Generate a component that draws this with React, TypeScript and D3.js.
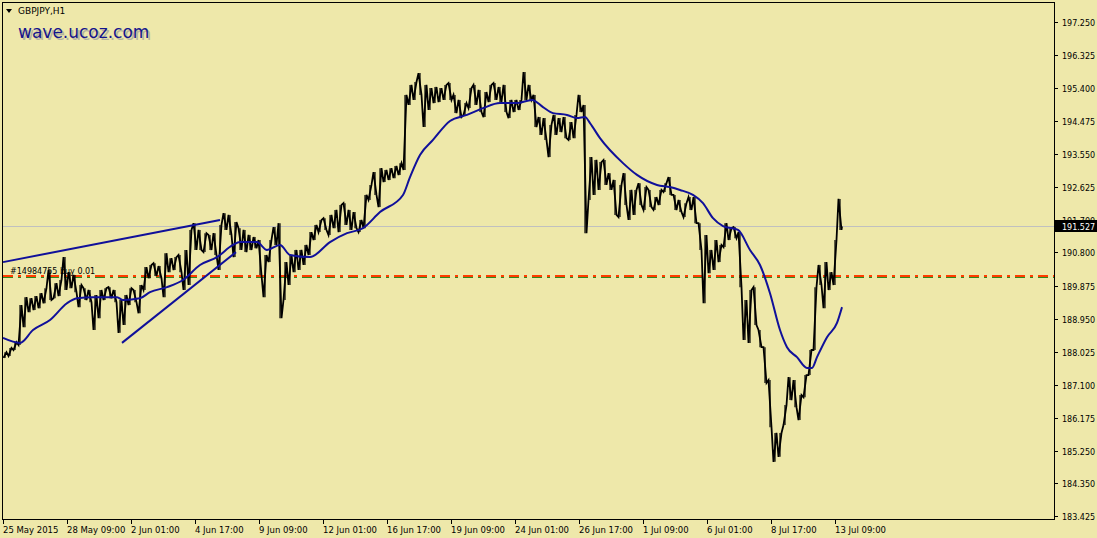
import React from 'react';
import * as d3 from 'd3';

const W = 1097;
const H = 538;

const symbolTitle = 'GBPJPY,H1';
const watermark = 'wave.ucoz.com';

const yTicks = [197.25, 196.325, 195.4, 194.475, 193.55, 192.625, 191.7, 190.8, 189.875, 188.95, 188.025, 187.1, 186.175, 185.25, 184.35, 183.425];
const xTickLabels = ['25 May 2015', '28 May 09:00', '2 Jun 01:00', '4 Jun 17:00', '9 Jun 09:00', '12 Jun 01:00', '16 Jun 17:00', '19 Jun 09:00', '24 Jun 01:00', '26 Jun 17:00', '1 Jul 09:00', '6 Jul 01:00', '8 Jul 17:00', '13 Jul 09:00'];
const barsPerTick = 64;
const barsPerSlot = 5;

// high / low of each group of 5 hourly bars
const highs = [
  188.01, 188.13, 188.29, 189.33, 189.55, 189.52, 189.58, 189.66, 189.80, 190.31,
  189.94, 190.03, 190.67, 190.25, 190.17, 189.89, 189.80, 189.75, 189.61, 189.75,
  189.80, 189.83, 189.75, 189.47, 189.61, 189.80, 189.75, 189.89, 190.39, 190.45,
  190.50, 190.42, 190.78, 190.64, 190.67, 190.73, 190.87, 191.43, 191.62, 191.43,
  191.34, 191.29, 191.34, 191.57, 191.90, 191.85, 191.65, 191.48, 191.43, 191.29,
  191.23, 191.15, 190.73, 191.15, 191.51, 191.62, 190.53, 190.73, 190.87, 190.87,
  191.01, 191.37, 191.57, 191.71, 191.76, 191.85, 191.99, 192.13, 192.18, 191.99,
  191.93, 191.71, 192.41, 192.69, 193.05, 193.16, 193.11, 193.16, 193.22, 193.30,
  195.21, 195.49, 195.57, 195.82, 195.49, 195.40, 195.43, 195.40, 195.49, 195.54,
  195.21, 195.07, 194.98, 195.40, 195.49, 195.35, 195.29, 195.49, 195.54, 195.43,
  195.49, 195.07, 195.07, 195.07, 195.85, 195.49, 195.21, 194.59, 194.56, 194.37,
  194.65, 194.56, 194.59, 194.45, 194.65, 195.21, 194.93, 193.47, 193.39, 193.33,
  193.39, 193.02, 192.83, 192.69, 193.02, 192.55, 192.55, 192.74, 192.63, 192.55,
  192.35, 192.55, 192.74, 192.91, 192.41, 192.27, 192.18, 192.35, 192.35, 191.62,
  191.29, 190.87, 191.15, 191.01, 191.62, 191.48, 191.51, 191.37, 189.47, 189.75,
  189.83, 188.63, 188.15, 187.23, 185.75, 185.75, 186.53, 187.31, 187.23, 186.81,
  187.37, 188.07, 189.83, 190.45, 190.53, 190.25, 191.15, 192.30,
];
const lows = [
  187.85, 187.90, 188.07, 188.21, 188.71, 189.13, 189.19, 189.24, 189.38, 189.47,
  189.52, 189.58, 189.75, 189.80, 189.69, 189.27, 189.47, 189.41, 188.63, 188.96,
  189.47, 189.52, 189.41, 188.55, 188.77, 189.33, 189.41, 189.10, 189.75, 190.08,
  190.14, 190.08, 189.55, 190.25, 190.31, 190.25, 189.75, 189.89, 190.87, 190.87,
  190.81, 190.87, 190.73, 190.31, 191.43, 191.29, 190.67, 190.87, 190.81, 190.87,
  190.92, 190.17, 189.55, 190.53, 191.01, 188.96, 189.47, 189.89, 190.25, 190.31,
  190.45, 190.73, 191.15, 191.37, 191.43, 191.29, 191.48, 191.37, 191.57, 191.43,
  191.48, 191.37, 191.48, 192.27, 192.41, 192.07, 192.77, 192.83, 192.88, 192.97,
  193.11, 194.93, 195.07, 195.21, 194.31, 194.79, 194.98, 195.01, 195.07, 195.07,
  194.70, 194.59, 194.65, 194.84, 194.93, 194.73, 194.59, 195.01, 195.07, 195.01,
  194.73, 194.56, 194.73, 194.79, 195.07, 195.07, 194.31, 194.09, 193.95, 193.47,
  194.09, 194.17, 194.00, 193.95, 194.00, 194.73, 191.34, 192.27, 192.41, 192.55,
  192.69, 192.55, 191.85, 191.79, 192.13, 191.71, 191.85, 192.13, 191.99, 192.07,
  191.99, 192.13, 192.49, 192.41, 191.99, 191.93, 191.79, 191.99, 191.62, 190.87,
  189.38, 190.22, 190.31, 190.53, 190.95, 191.15, 191.20, 189.83, 188.35, 188.27,
  188.77, 188.15, 187.15, 185.91, 184.94, 185.08, 185.97, 186.67, 186.47, 186.11,
  186.75, 187.37, 188.07, 189.89, 189.24, 189.75, 189.89, 191.43,
];

// moving average (bar index, value)
const maBars = [0, 17, 30, 47, 64, 74, 90, 114, 120, 137, 147, 164, 180, 197, 214, 230, 237, 254, 264, 277, 287, 307, 327, 344, 360, 377, 400, 407, 417, 430, 447, 464, 480, 497, 514, 529, 540, 550, 564, 574, 582, 587, 597, 620, 634, 654, 667, 677, 690, 700, 710, 720, 735, 747, 757, 767, 777, 784, 794, 804, 809, 814, 824, 834, 839];
const maValues = [188.41, 188.27, 188.63, 188.91, 189.38, 189.52, 189.55, 189.55, 189.47, 189.52, 189.69, 189.83, 190.03, 190.45, 190.67, 191.01, 191.09, 191.09, 190.87, 191.01, 190.73, 190.67, 191.09, 191.34, 191.48, 191.93, 192.41, 192.91, 193.53, 193.95, 194.48, 194.65, 194.84, 194.98, 194.98, 195.07, 194.87, 194.70, 194.65, 194.56, 194.59, 194.42, 194.00, 193.30, 192.97, 192.69, 192.63, 192.55, 192.41, 192.18, 191.76, 191.54, 191.43, 190.87, 190.45, 189.66, 188.63, 188.15, 187.87, 187.57, 187.57, 187.87, 188.43, 188.83, 189.27];

const upperTrendBars = [0, 217];
const upperTrendValues = [190.53, 191.71];
const lowerTrendBars = [119, 233];
const lowerTrendValues = [188.27, 190.81];

const orderPrice = 190.14;
const orderLabel = '#14984755 buy 0.01';
const lastPrice = 191.527;
const lastBar = 839;

const PLOT = { left: 3, top: 3, right: 1055, bottom: 520 };
const BG = '#EEE8AA';
const NAVY = '#10109a';
const FONT = '"DejaVu Sans", Verdana, sans-serif';

export default function App() {
  const x = d3.scaleLinear().domain([0, PLOT.right - PLOT.left]).range([PLOT.left, PLOT.right]);
  const y = d3.scaleLinear().domain([183.425, 197.25]).range([516, 22]);

  // price trace as zigzag through each slot's low/high
  const pts: [number, number][] = [];
  const bars: { cx: number; hi: number; lo: number }[] = [];
  for (let i = 0; i < highs.length; i++) {
    const cx = x(i * barsPerSlot + 2);
    const mid = (highs[i] + lows[i]) / 2;
    const nextMid = i < highs.length - 1 ? (highs[i + 1] + lows[i + 1]) / 2 : lastPrice;
    const rising = nextMid >= mid;
    const a = rising ? lows[i] : highs[i];
    const b = rising ? highs[i] : lows[i];
    pts.push([cx - 1.5, y(a)]);
    pts.push([cx + 1.5, y(b)]);
    bars.push({ cx, hi: y(highs[i]), lo: y(lows[i]) });
  }
  pts.push([x(lastBar), y(lastPrice)]);
  const priceLine = d3.line()(pts) || '';

  const maLine = d3.line<number>()
    .x((_, i) => x(maBars[i]))
    .y((v) => y(v))
    .curve(d3.curveMonotoneX)(maValues) || '';

  const trend = (bs: number[], vals: number[]) =>
    d3.line<number>().x((_, i) => x(bs[i])).y((v) => y(v))(vals) || '';

  const yOrder = Math.round(y(orderPrice));
  const yLast = Math.round(y(lastPrice)) + 0.5;

  return (
    <svg width={W} height={H} style={{ position: 'absolute', left: 0, top: 0, display: 'block' }}>
      <rect x={0} y={0} width={W} height={H} fill={BG} />
      {/* current price line */}
      <line x1={PLOT.left} x2={PLOT.right} y1={yLast} y2={yLast} stroke="#c0c0c0" strokeWidth={1} />
      {/* order line */}
      <line x1={PLOT.left} x2={PLOT.right} y1={yOrder + 1.5} y2={yOrder + 1.5} stroke="#2e8b1e" strokeWidth={1} strokeDasharray="10,5,3,5" />
      <line x1={PLOT.left} x2={PLOT.right} y1={yOrder} y2={yOrder} stroke="#ff3c00" strokeWidth={2} strokeDasharray="10,5,3,5" />
      <text x={10} y={yOrder - 2} fontFamily={FONT} fontSize={8} fill="#000">{orderLabel}</text>

      {/* price */}
      {bars.map((b, i) => (
        <line key={i} x1={b.cx} x2={b.cx} y1={b.hi} y2={b.lo} stroke="#000" strokeWidth={1.2} />
      ))}
      <path d={priceLine} fill="none" stroke="#000" strokeWidth={1.8} strokeLinejoin="miter" />
      {/* moving average */}
      <path d={maLine} fill="none" stroke={NAVY} strokeWidth={2} />
      {/* trend lines */}
      <path d={trend(upperTrendBars, upperTrendValues)} fill="none" stroke={NAVY} strokeWidth={2} />
      <path d={trend(lowerTrendBars, lowerTrendValues)} fill="none" stroke={NAVY} strokeWidth={2} />

      {/* frame */}
      <rect x={PLOT.left - 0.5} y={PLOT.top - 0.5} width={PLOT.right - PLOT.left} height={PLOT.bottom - PLOT.top} fill="none" stroke="#000" strokeWidth={1} />

      {/* y axis */}
      {yTicks.map((t) => {
        const yy = Math.round(y(t)) + 0.5;
        return (
          <g key={t}>
            <line x1={PLOT.right} x2={PLOT.right + 3} y1={yy} y2={yy} stroke="#000" />
            <text x={1062} y={yy + 3} fontFamily={FONT} fontSize={8} fill="#000">{t.toFixed(3)}</text>
          </g>
        );
      })}
      {/* last price label */}
      <rect x={PLOT.right} y={yLast - 6.5} width={W - PLOT.right} height={12} fill="#000" />
      <text x={1062} y={yLast + 3.5} fontFamily={FONT} fontSize={8} fill="#fff">{lastPrice.toFixed(3)}</text>

      {/* x axis */}
      {xTickLabels.map((lab, i) => {
        const xx = Math.round(x(i * barsPerTick)) + 0.5;
        return (
          <g key={lab}>
            <line x1={xx} x2={xx} y1={PLOT.bottom} y2={PLOT.bottom + 4} stroke="#000" />
            <text x={xx - 0.5} y={533} fontFamily={FONT} fontSize={8.5} fill="#000">{lab}</text>
          </g>
        );
      })}

      {/* title */}
      <path d="M6,9 L12,9 L9,13 Z" fill="#000" />
      <text x={18} y={14} fontFamily={FONT} fontSize={9} fill="#000">{symbolTitle}</text>
      <text x={20} y={40} fontFamily={FONT} fontSize={17} fill="#9c9c9c" opacity={0.7}>{watermark}</text>
      <text x={18} y={38} fontFamily={FONT} fontSize={17} fill="#14148c">{watermark}</text>
    </svg>
  );
}
